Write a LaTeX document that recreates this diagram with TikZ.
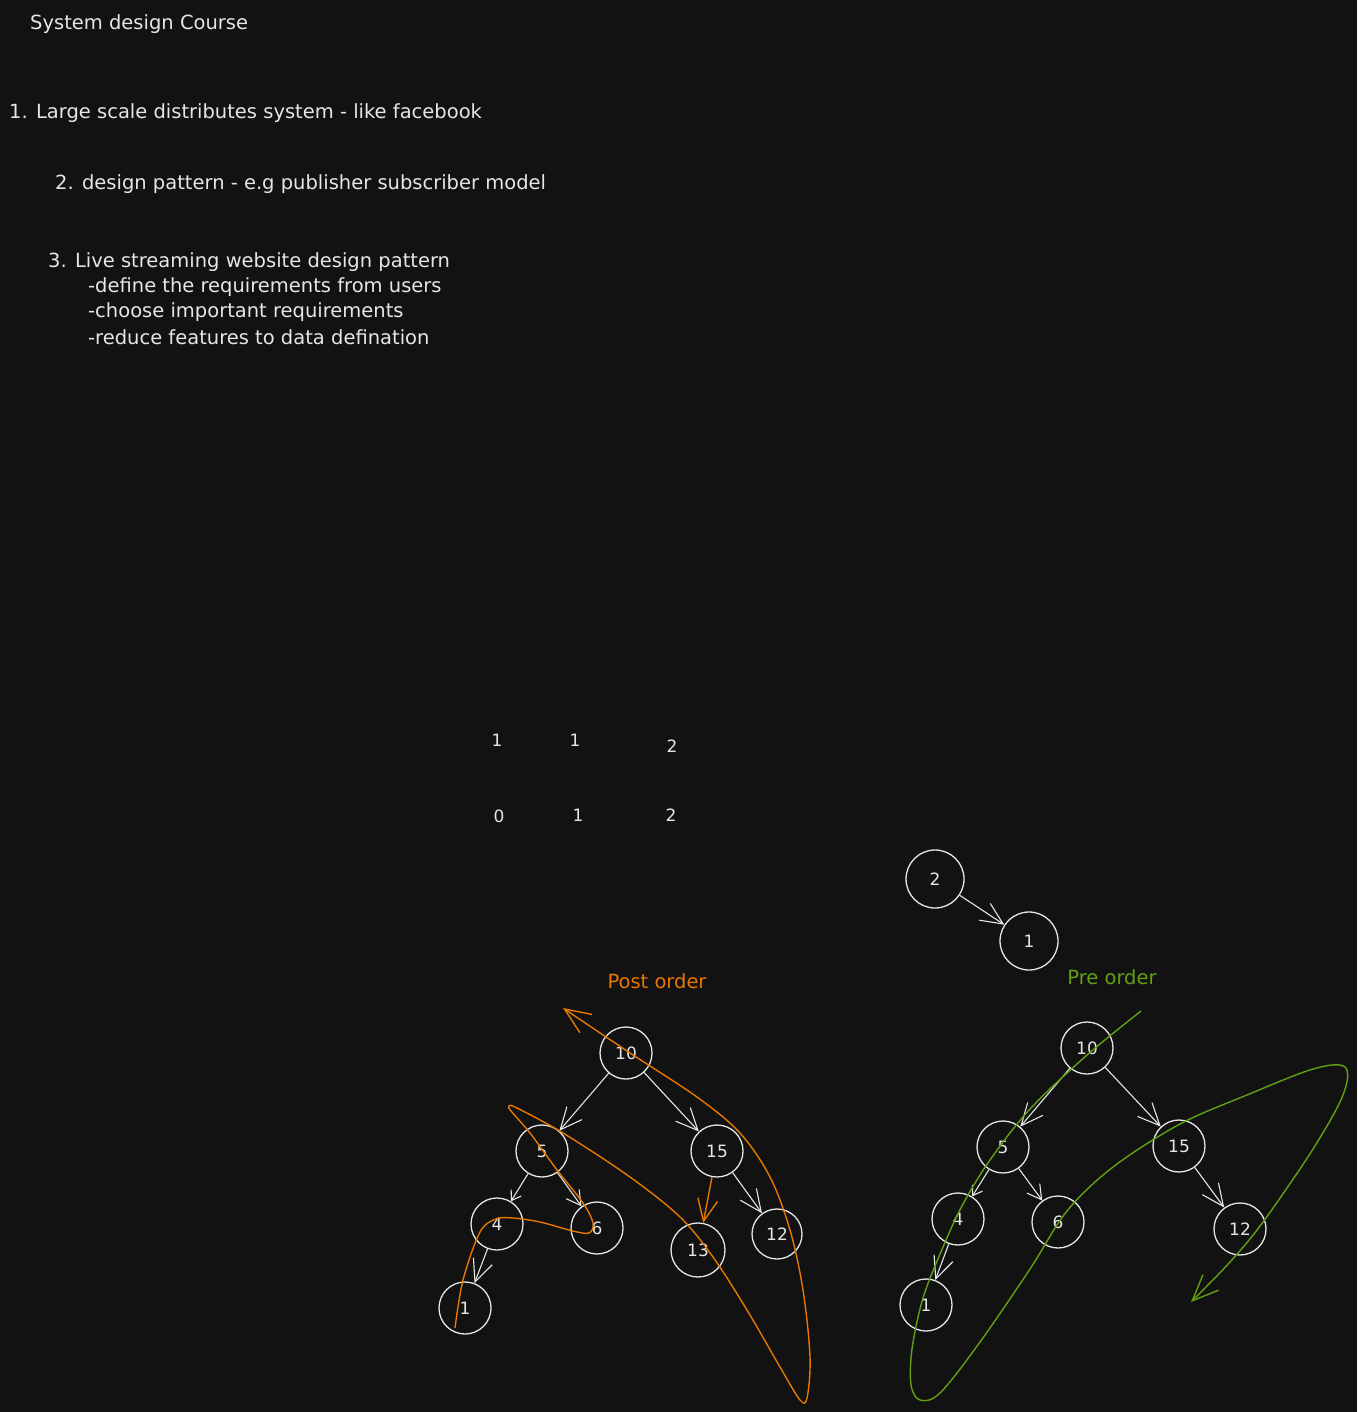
\documentclass[tikz,border=0pt]{standalone}
\usepackage{fontspec}
\setmainfont{DejaVu Sans}
\usetikzlibrary{arrows.meta}
\definecolor{bgc}{HTML}{121212}
\definecolor{fgc}{HTML}{E6E6E6}
\definecolor{orc}{HTML}{E67700}
\definecolor{grc}{HTML}{62A012}
\begin{document}
\begin{tikzpicture}[x=1pt,y=-1pt,
  txt/.style={text=fgc, font=\fontsize{19.5}{24}\selectfont, inner sep=0pt, anchor=west},
  num/.style={text=fgc, font=\fontsize{17}{17}\selectfont, inner sep=0pt},
  circ/.style={circle, draw=fgc, line width=1.3pt, minimum size=52pt, inner sep=0pt, text=fgc, font=\fontsize{17}{17}\selectfont},
  bigcirc/.style={circ, minimum size=58pt},
  edge/.style={draw=fgc, line width=1.1pt},
  tipS/.style={-{Straight Barb[length=9pt,width=12pt]}},
  tipM/.style={-{Straight Barb[length=14pt,width=16pt]}},
  tipL/.style={-{Straight Barb[length=22pt,width=20pt]}},
  orpath/.style={draw=orc, line width=1.4pt},
  grpath/.style={draw=grc, line width=1.4pt}]
\fill[bgc] (0,0) rectangle (1357,1412);
\useasboundingbox (0,0) rectangle (1357,1412);

% texts
\node[txt] (t0) at (30,24) {System design Course};
\node[txt] (t1) at (9,113) {1. Large scale distributes system - like facebook};
\node[txt] (t2) at (55,184) {2. design pattern - e.g publisher subscriber model};
\node[txt] (t3) at (48,262) {3. Live streaming website design pattern};
\node[txt] (t4) at (88,287) {-define the requirements from users};
\node[txt] (t5) at (88,312) {-choose important requirements};
\node[txt] (t6) at (88,337) {-reduce features to data defination};

% loose numbers
\node[num] (a1) at (497,740) {1};
\node[num] (a2) at (575,740) {1};
\node[num] (a3) at (672,746) {2};
\node[num] (b1) at (499,816) {0};
\node[num] (b2) at (578,815) {1};
\node[num] (b3) at (671,815) {2};

% labels
\node[text=orc, font=\fontsize{19.5}{20}\selectfont, inner sep=0pt] (lpost) at (657,981) {Post order};
\node[text=grc, font=\fontsize{19.5}{20}\selectfont, inner sep=0pt] (lpre) at (1112,977) {Pre order};

% post order tree
\node[circ] (p10) at (626,1053) {10};
\node[circ] (p5) at (542,1151) {5};
\node[circ] (p15) at (717,1151) {15};
\node[circ] (p4) at (497,1224) {4};
\node[circ] (p6) at (597,1228) {6};
\node[circ, minimum size=54pt] (p13) at (698,1250) {13};
\node[circ, minimum size=50pt] (p12) at (777,1234) {12};
\node[circ] (p1) at (465,1308) {1};
\draw[edge,tipL] (p10) -- (p5);
\draw[edge,tipL] (p10) -- (p15);
\draw[edge,tipS] (p5) -- (p4);
\draw[edge,tipM] (p5) -- (p6);
\draw[edge,tipL] (p15) -- (p12);
\draw[edge,tipL] (p4) -- (p1);
\draw[orpath,tipL] (p15) -- (p13);

% post order traversal curve
\coordinate (ostart) at (455,1328);
\coordinate (oend) at (563,1008);
\draw[orpath,-{Straight Barb[length=26pt,width=22pt]}] plot[smooth, tension=0.55] coordinates {
 (ostart) (463,1280) (480,1232) (496,1219) (513,1218) (540,1222) (573,1231) (589,1233)
 (593,1223) (583,1203) (557,1170) (530,1133) (511,1111) (509,1106) (517,1108) (563,1133)
 (630,1177) (680,1217) (713,1257) (747,1310) (780,1367) (800,1400) (807,1398) (810,1357)
 (803,1290) (790,1230) (770,1177) (740,1133) (697,1097) (630,1053) (oend)};

% small tree
\node[bigcirc] (q2) at (935,879) {2};
\node[bigcirc] (q1) at (1029,941) {1};
\draw[edge,tipL] (q2) -- (q1);

% pre order tree
\node[circ] (r10) at (1087,1048) {10};
\node[circ] (r5) at (1003,1147) {5};
\node[circ] (r15) at (1179,1146) {15};
\node[circ] (r4) at (958,1219) {4};
\node[circ] (r6) at (1058,1222) {6};
\node[circ] (r12) at (1240,1229) {12};
\node[circ] (r1) at (926,1305) {1};
\draw[edge,tipL] (r10) -- (r5);
\draw[edge,tipL] (r10) -- (r15);
\draw[edge,tipS] (r5) -- (r4);
\draw[edge,tipM] (r5) -- (r6);
\draw[edge,tipL] (r15) -- (r12);
\draw[edge,tipL] (r4) -- (r1);

% pre order traversal curve
\coordinate (gstart) at (1141,1011);
\coordinate (gend) at (1191,1302);
\draw[grpath,-{Straight Barb[length=26pt,width=22pt]}] plot[smooth, tension=0.55] coordinates {
 (gstart) (1087,1055) (1030,1109) (990,1160) (963,1204) (943,1247) (923,1298) (912,1349)
 (911,1385) (920,1400) (940,1393) (980,1342) (1030,1269) (1067,1211) (1113,1167) (1180,1124)
 (1247,1095) (1313,1069) (1345,1067) (1343,1095) (1313,1149) (1263,1222) (1230,1262) (gend)};
\end{tikzpicture}
\end{document}
